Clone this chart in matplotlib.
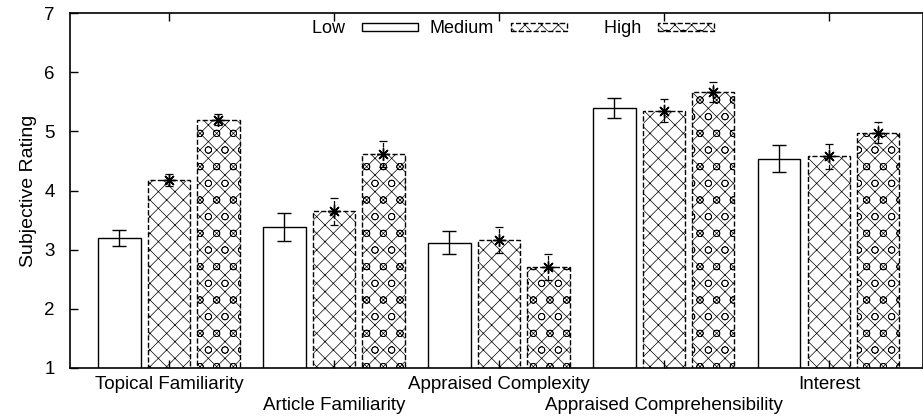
import matplotlib
matplotlib.use("Agg")
import matplotlib.pyplot as plt
import numpy as np

plt.rcParams['font.family'] = ['Liberation Sans', 'DejaVu Sans']
plt.rcParams['font.size'] = 13.5
plt.rcParams['hatch.linewidth'] = 0.5

# ratings per category, three levels
categories = ["Topical Familiarity", "Article Familiarity", "Appraised Complexity",
              "Appraised Comprehensibility", "Interest"]
levels = ["Low", "Medium", "High"]

low = [3.20, 3.38, 3.12, 5.40, 4.54]
low_err = [0.13, 0.24, 0.20, 0.17, 0.23]
medium = [4.18, 3.65, 3.16, 5.35, 4.58]
medium_err = [0.10, 0.23, 0.22, 0.19, 0.21]
high = [5.20, 4.61, 2.70, 5.67, 4.98]
high_err = [0.10, 0.22, 0.22, 0.17, 0.18]

x = np.arange(len(categories))
width = 0.255
step = 0.30

fig = plt.figure(figsize=(9.23, 4.18), dpi=100)
ax = fig.add_axes([70/923, 50/418, 853/923, 355/418])

# gnuplot-style key: labels right-justified in equal columns
key_labels = ["        " + levels[0], levels[1], "     " + levels[2]]

ax.bar(x - step, low, width, facecolor='white', edgecolor='black', linewidth=1.0,
       label=key_labels[0])
ax.bar(x, medium, width, facecolor='white', edgecolor='black', linewidth=1.0,
       linestyle='--', hatch='xx', label=key_labels[1])
ax.bar(x + step, high, width, facecolor='white', edgecolor='black', linewidth=1.0,
       linestyle='--', hatch='xxo', label=key_labels[2])

ax.errorbar(x - step, low, yerr=low_err, fmt='none', ecolor='black', elinewidth=1.0,
            capsize=5, capthick=1.0)
for xs, vals, errs in [(x, medium, medium_err), (x + step, high, high_err)]:
    eb = ax.errorbar(xs, vals, yerr=errs, fmt='none', ecolor='black', elinewidth=0.9,
                     capsize=3, capthick=0.9)
    eb[2][0].set_linestyle('--')
    ax.plot(xs, vals, linestyle='none', marker=(8, 2, 0), markersize=9,
            markeredgewidth=1.0, color='black')

ax.set_xlim(-0.6, 4.57)
ax.set_ylim(1, 7)
ax.set_yticks(range(1, 8))
# alternate categories: even ones on the first row, odd ones one row lower
ax.set_xticks(x[0::2], categories[0::2])
ax.set_xticks(x[1::2], categories[1::2], minor=True)
ax.tick_params(axis='both', which='both', direction='in', length=6, width=1.0,
               top=True, right=False)
ax.tick_params(axis='x', which='major', pad=6)
ax.tick_params(axis='x', which='minor', pad=21)
ax.tick_params(axis='y', pad=11)
ax.set_ylabel("Subjective Rating", labelpad=5, fontsize=14)
for s in ax.spines.values():
    s.set_linewidth(1.2)

ax.legend(loc='upper center', bbox_to_anchor=(0.496, 1.025), ncol=3, frameon=False,
          markerfirst=False, handlelength=3.1, handleheight=0.35, columnspacing=0.65,
          handletextpad=0.95, fontsize=13)

fig.savefig("out.png", dpi=100)
